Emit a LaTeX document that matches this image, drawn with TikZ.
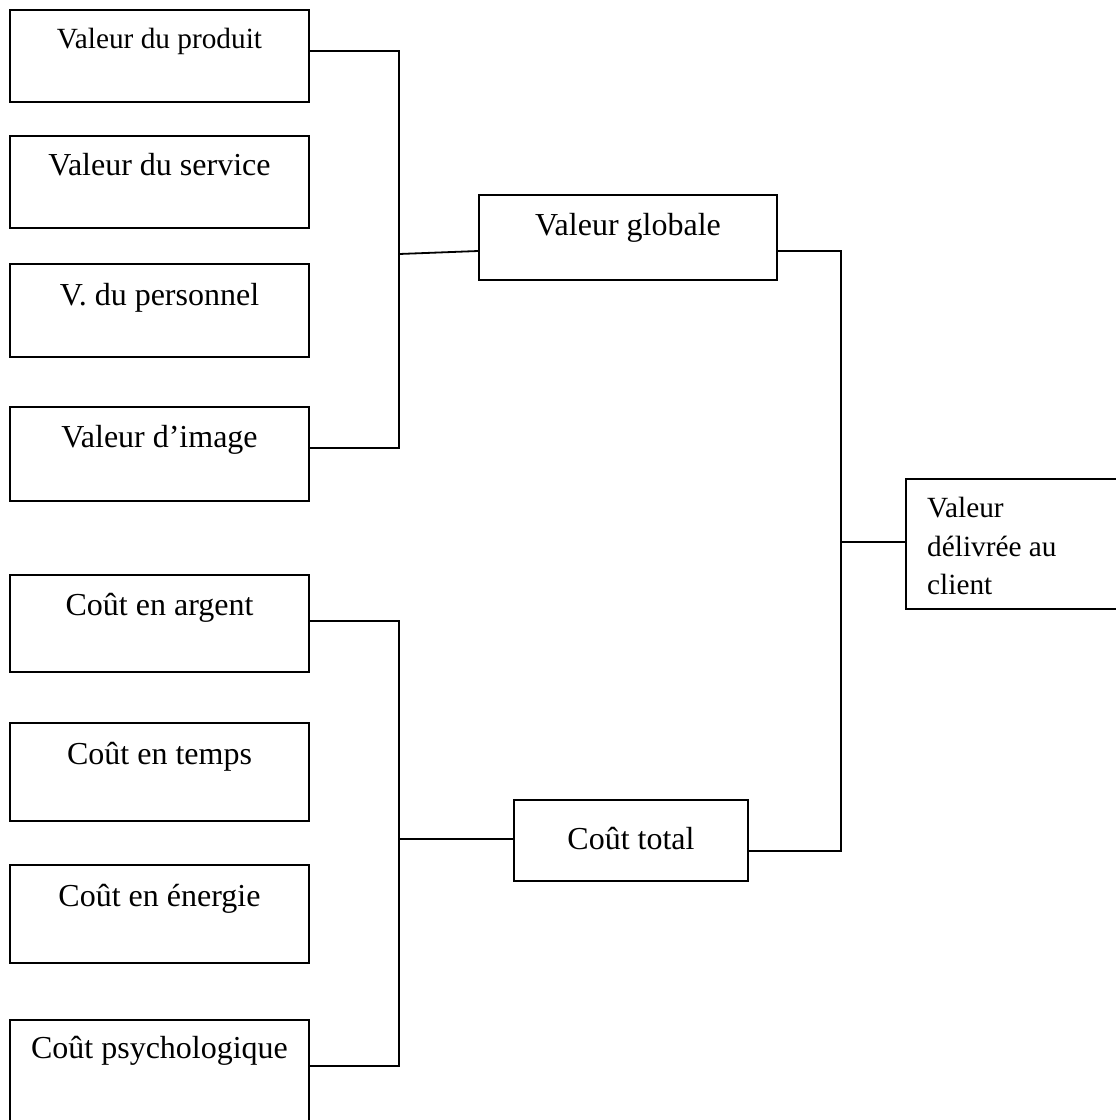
\documentclass[tikz,border=0pt]{standalone}
\usepackage{fontspec}
\setmainfont{Liberation Serif}
\begin{document}
\begin{tikzpicture}[x=1pt,y=-1pt,
  box/.style={draw=black,line width=1.8pt,rectangle,inner sep=0pt,fill=white},
  leftbox/.style={box,minimum width=299pt},
  lbl/.style={anchor=base,inner sep=0pt,font=\fontsize{32}{38}\selectfont},
  smalllbl/.style={anchor=base,inner sep=0pt,font=\fontsize{29.3}{38.5}\selectfont},
  wire/.style={draw=black,line width=1.8pt,line join=miter}]
\useasboundingbox (0,0) rectangle (1116,1120);
\clip (0,0) rectangle (1116,1120);

% value components
\node[leftbox,minimum height=92pt] (p1) at (159.5,56) {};
\node[leftbox,minimum height=92pt] (p2) at (159.5,182) {};
\node[leftbox,minimum height=93pt] (p3) at (159.5,310.5) {};
\node[leftbox,minimum height=94pt] (p4) at (159.5,454) {};
% cost components
\node[leftbox,minimum height=97pt] (c1) at (159.5,623.5) {};
\node[leftbox,minimum height=98pt] (c2) at (159.5,772) {};
\node[leftbox,minimum height=98pt] (c3) at (159.5,914) {};
\node[leftbox,minimum height=120pt] (c4) at (159.5,1080) {};

\node[smalllbl] (tp1) at (159.5,48) {Valeur du produit};
\node[lbl] (tp2) at (159.5,175) {Valeur du service};
\node[lbl] (tp3) at (159.5,305) {V. du personnel};
\node[lbl] (tp4) at (159.5,447) {Valeur d’image};
\node[lbl] (tc1) at (159.5,615) {Coût en argent};
\node[lbl] (tc2) at (159.5,764) {Coût en temps};
\node[lbl] (tc3) at (159.5,906) {Coût en énergie};
\node[lbl] (tc4) at (159.5,1058) {Coût psychologique};

% totals
\node[box,minimum width=298pt,minimum height=85pt] (vg) at (628,237.5) {};
\node[lbl] (tvg) at (628,235) {Valeur globale};
\node[box,minimum width=234pt,minimum height=81pt] (ct) at (631,840.5) {};
\node[lbl] (tct) at (631,849) {Coût total};

% delivered value
\node[box,minimum width=240pt,minimum height=130pt] (vd) at (1026,544) {};
\node[anchor=north west,inner sep=0pt,align=left,
      font=\fontsize{29.3}{38.5}\selectfont] (tvd) at (927,497)
      {Valeur\\délivrée au\\client};

% junction points
\coordinate (ja) at (399,51);
\coordinate (jb) at (399,448);
\coordinate (jm) at (399,254);
\coordinate (jc) at (399,621);
\coordinate (jd) at (399,1066);
\coordinate (je) at (399,839);
\coordinate (rt) at (841,251);
\coordinate (rb) at (841,851);
\coordinate (rm) at (841,542);

% value bracket
\draw[wire] (p1.east |- ja) -- (ja) -- (jb) -- (p4.east |- jb);
\draw[wire] (jm) -- (vg.west |- 0,251);
% cost bracket
\draw[wire] (c1.east |- jc) -- (jc) -- (jd) -- (c4.east |- jd);
\draw[wire] (je) -- (ct.west |- je);
% combining bracket
\draw[wire] (vg.east |- rt) -- (rt) -- (rb) -- (ct.east |- rb);
\draw[wire] (rm) -- (vd.west |- rm);
\end{tikzpicture}
\end{document}
